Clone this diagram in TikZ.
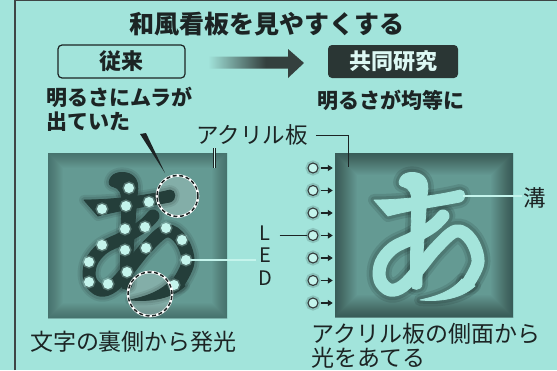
\documentclass[tikz,border=0pt]{standalone}
\usepackage{fontspec}
\setmainfont{Noto Sans CJK JP}
\usetikzlibrary{arrows.meta}

\definecolor{bg}{RGB}{162,228,219}
\definecolor{ink}{RGB}{28,36,36}
\definecolor{panel}{RGB}{100,154,147}
\definecolor{glyphdark}{RGB}{36,62,58}
\definecolor{glyphlight}{RGB}{164,228,219}
\definecolor{ledlight}{RGB}{196,244,236}
\definecolor{boxdark}{RGB}{42,54,52}
\definecolor{arrowc}{RGB}{52,64,62}

\pgfdeclarehorizontalshading{arrowfade}{100bp}{color(0bp)=(bg); color(25bp)=(bg); color(55bp)=(arrowc); color(100bp)=(arrowc)}

% The hiragana "a" drawn as three strokes: bar, vertical, loop with tail.
% #1 = colour options, #2 = outline width of the filled parts, #3 = width of the looping stroke
\newcommand\glyphA[3]{%
  \path[#1, line width=#2, line join=round]
    (374,200) .. controls (405,200) and (440,195) .. (460,190)
    .. controls (466,190) and (467,200) .. (460,202)
    .. controls (440,206) and (410,210) .. (388,216) -- cycle;
  \path[#1, line width=#2, line join=round]
    (400,179) .. controls (403,172) and (413,171) .. (420,174)
    .. controls (428,178) and (429,186) .. (427,196)
    .. controls (425,225) and (422,260) .. (422,284)
    .. controls (422,291) and (411,291) .. (411,285)
    .. controls (410,260) and (411,225) .. (412,203)
    .. controls (412,193) and (409,188) .. (404,187)
    .. controls (399,186) and (398,183) .. cycle;
  \path[#1, line width=#2, line join=round]
    (462,279) .. controls (452,291) and (438,296) .. (420,300)
    .. controls (442,302) and (462,298) .. (475,286) -- cycle;
  \path[#1, fill=none, line width=#3, line cap=round, line join=round]
    plot[smooth, tension=0.6] coordinates {(443,216) (433,226) (413,238) (393,248)
      (381,263) (380,280) (390,290) (403,286) (418,270) (436,248) (456,231)
      (471,240) (478,262) (468,283)};
}

\tikzset{
  every node/.style={inner sep=0pt, text=ink},
  titletxt/.style={font=\bfseries\fontsize{25}{28}\selectfont},
  boldtxt/.style={font=\bfseries\fontsize{21}{24}\selectfont},
  labeltxt/.style={font=\fontsize{22.5}{25}\selectfont},
  captxt/.style={font=\fontsize{23}{26}\selectfont},
  ledtxt/.style={font=\fontsize{20}{22}\selectfont},
  frame/.style={draw=ink!85, line width=1.3pt},
  oldbox/.style={draw=ink, line width=1.2pt, rounded corners=4pt, fill=bg,
    minimum width=127pt, minimum height=33pt, font=\bfseries\fontsize{22}{24}\selectfont},
  newbox/.style={fill=boxdark, rounded corners=4pt, text=ledlight!60!white,
    minimum width=130pt, minimum height=33pt, font=\bfseries\fontsize{22}{24}\selectfont},
  panelbox/.style={fill=panel, draw=none},
  leader/.style={draw=ink, line width=0.8pt},
  dblleader/.style={draw=ink, line width=0.55pt, double=ledlight, double distance=1.3pt},
  led/.style={circle, minimum size=10pt, draw=ink!90, line width=1.1pt, fill=ledlight,
    preaction={draw=black, draw opacity=0.14, line width=5pt}},
  ledarrow/.style={draw=ink, line width=1.6pt, -{Triangle[length=5pt,width=6pt]},
    shorten <=2.5pt, shorten >=2pt},
  ledspot/.style={circle, minimum size=10pt, fill=ledlight,
    preaction={draw=ledlight, draw opacity=0.3, line width=3pt}},
  spotring/.style={circle, draw=white, line width=2.6pt,
    postaction={draw=ink, line width=1.5pt, dash pattern=on 4pt off 2.6pt}},
  vignette/.style={draw=black, draw opacity=#1, line join=round},
}

\begin{document}
\begin{tikzpicture}[x=1pt, y=-1pt]
\useasboundingbox (0,0) rectangle (557,370);
\fill[bg] (0,0) rectangle (557,370);
\draw[frame] (15,370) -- (15,0.8) -- (557,0.8);

% heading
\node[titletxt, anchor=base] (title) at (267,33.5) {和風看板を見やすくする};

% before / after boxes with the fading arrow between them
\node[oldbox] (old) at (121.5,61.5) {従来};
\node[newbox] (new) at (393,61.5) {共同研究};
\shade[shading=arrowfade] (208,56.5) -- (288,56.5) -- (288,49) -- (304,63)
  -- (288,78) -- (288,68.5) -- (208,68.5) -- cycle;

\node[boldtxt, anchor=base west] (uneven) at (46,105.5) {明るさにムラが};
\node[boldtxt, anchor=base west] (uneven2) at (46,129.5) {出ていた};
\node[boldtxt, anchor=base] (even) at (391,108) {明るさが均等に};

% ---------- left panel: letter lit from behind ----------
\node[panelbox, minimum width=179pt, minimum height=165pt] (panelL) at (137.5,235.5) {};
\begin{scope}
  \clip (48,153) rectangle (227,318);
  \foreach \w in {2,4,...,30} \draw[vignette=0.014, line width=\w pt] (48,153) rectangle (227,318);
  \fill[white, opacity=0.2] (177.5,196) circle (20.5);
  \fill[white, opacity=0.2] (150,294) circle (22);
  \begin{scope}[xshift=-290pt]
    \glyphA{draw=black, fill=black, opacity=0.08}{10pt}{23pt}
    \glyphA{draw=black, fill=black, opacity=0.1}{6pt}{19pt}
    \glyphA{draw=glyphdark, fill=glyphdark}{0.8pt}{13pt}
  \end{scope}
\end{scope}

\foreach \n/\p in {1/{(129,188)}, 2/{(102,209)}, 3/{(126,206)}, 4/{(149,202)},
    5/{(125,229)}, 6/{(145,227)}, 7/{(166,228)}, 8/{(182,240)}, 9/{(102,245)},
    10/{(125,250)}, 11/{(146,248)}, 12/{(89,262)}, 13/{(186,260)}, 14/{(127,272)},
    15/{(89,282)}, 16/{(108,284)}, 17/{(174,285)}}
  \node[ledspot] (spot\n) at \p {};

\node[spotring, minimum size=41pt] (ringA) at (177.5,196) {};
\node[spotring, minimum size=44pt] (ringB) at (150,294) {};
\fill[ink] (140,134) -- (146,133) -- (165,173) -- cycle;

% ---------- right panel: letter lit from the edge ----------
\node[panelbox, minimum width=178pt, minimum height=164pt] (panelR) at (424,235) {};
\begin{scope}
  \clip (335,153) rectangle (513,317);
  \foreach \w in {2,4,...,44} \draw[vignette=0.02, line width=\w pt] (335,153) rectangle (513,317);
  \glyphA{draw=black, fill=black, opacity=0.1}{12pt}{25pt}
  \glyphA{draw=black, fill=black, opacity=0.12}{7pt}{20pt}
  \glyphA{draw=glyphlight, fill=glyphlight}{0.8pt}{13pt}
\end{scope}

\foreach \i/\y in {1/168,2/190.5,3/213,4/235.5,5/258,6/280.5,7/303} {
  \node[led] (led\i) at (313,\y) {};
  \draw[ledarrow] (led\i.east) -- (led\i.east -| panelR.west);
}

% labels and leaders
\node[labeltxt, anchor=base] (acryl) at (252,143.5) {アクリル板};
\coordinate (acrylR) at (348,167);
\draw[leader] ([xshift=8pt]acryl.east) -| (acrylR);
\coordinate (acrylLtop) at (214.5,148);
\coordinate (acrylLbot) at (214.5,168);
\draw[dblleader] (acrylLtop) -- (acrylLbot);

\node[ledtxt, anchor=base] (ledL) at (265,240) {L};
\node[ledtxt, anchor=base] (ledE) at (265,262.5) {E};
\node[ledtxt, anchor=base] (ledD) at (265,285) {D};
\draw[leader] ([xshift=9pt]ledL.east |- led4.west) -- (led4.west);
\draw[dblleader] ([xshift=-3pt]ledE.west |- spot13.east) -- (spot13.east);

\node[labeltxt, anchor=base] (mizo) at (535,206.5) {溝};
\coordinate (groove) at (463,196);
\draw[dblleader] ([xshift=-2pt]mizo.west |- groove) -- (groove);

% captions
\node[captxt, anchor=base] (capL) at (133.5,350) {文字の裏側から発光};
\node[captxt, anchor=base west] (capR1) at (311,342) {アクリル板の側面から};
\node[captxt, anchor=base west] (capR2) at (311,366) {光をあてる};
\end{tikzpicture}
\end{document}
